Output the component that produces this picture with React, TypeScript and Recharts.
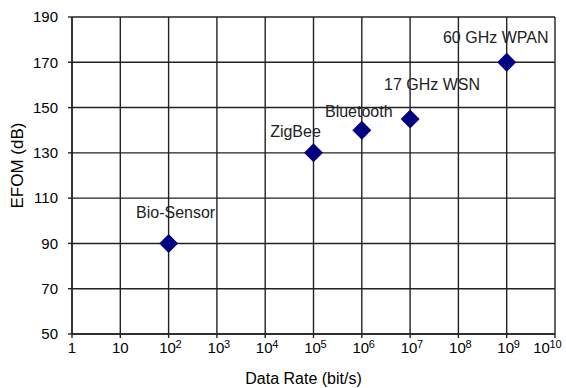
import { ScatterChart, Scatter, XAxis, YAxis, CartesianGrid } from "recharts";

const DEVICES = ["Bio-Sensor", "ZigBee", "Bluetooth", "17 GHz WSN", "60 GHz WPAN"];
const DATA_RATES = [1e2, 1e5, 1e6, 1e7, 1e9];
const EFOM = [90, 130, 140, 145, 170];

const X_TICKS = [1, 1e1, 1e2, 1e3, 1e4, 1e5, 1e6, 1e7, 1e8, 1e9, 1e10];
const Y_TICKS = [50, 70, 90, 110, 130, 150, 170, 190];

// where each point's name sits relative to its marker
const LABEL_OFFSETS: Record<string, [number, number]> = {
  "Bio-Sensor": [7, -30],
  ZigBee: [-18, -20],
  Bluetooth: [-3, -17],
  "17 GHz WSN": [22, -33],
  "60 GHz WPAN": [-11, -24],
};

const FONT = '"Liberation Sans", Arial, sans-serif';
const NAVY = "#000080";

const data = DEVICES.map((name, i) => ({ name, rate: DATA_RATES[i], efom: EFOM[i] }));

// eslint-disable-next-line @typescript-eslint/no-explicit-any
function XTick({ x, y, payload }: any) {
  const exp = Math.round(Math.log10(payload.value));
  if (exp <= 1) {
    return (
      <text x={x} y={y} dy="0.71em" textAnchor="middle" fontSize={15} fill="#000" fontFamily={FONT}>
        {exp === 0 ? "1" : "10"}
      </text>
    );
  }
  // last label is pulled left so it stays inside the picture
  const shift = exp >= 10 ? -12.5 : 0;
  return (
    <g fontFamily={FONT} fill="#000">
      <text x={x - 1 + shift} y={y} dy="0.71em" textAnchor="middle" fontSize={15}>
        10
      </text>
      <text x={x + 7 + shift} y={y - 2} dy="0.71em" textAnchor="start" fontSize={11}>
        {exp}
      </text>
    </g>
  );
}

// eslint-disable-next-line @typescript-eslint/no-explicit-any
function Diamond({ cx, cy, payload }: any) {
  const r = 9.5;
  const [dx, dy] = LABEL_OFFSETS[payload.name] ?? [0, -24];
  return (
    <g>
      <polygon
        points={`${cx},${cy - r} ${cx + r},${cy} ${cx},${cy + r} ${cx - r},${cy}`}
        fill={NAVY}
      />
      <text
        x={cx + dx}
        y={cy + dy}
        textAnchor="middle"
        dominantBaseline="middle"
        fontSize={16}
        fontFamily={FONT}
        fill="#222"
      >
        {payload.name}
      </text>
    </g>
  );
}

export default function App() {
  return (
    <div style={{ width: 566, height: 388, background: "#fff" }}>
      <style>{"body{margin:0}"}</style>
      <ScatterChart width={566} height={388} margin={{ top: 17, right: 11, left: 0, bottom: 0 }}>
        <CartesianGrid stroke="#222" strokeWidth={1.4} />
        <XAxis
          type="number"
          dataKey="rate"
          scale="log"
          domain={[1, 1e10]}
          ticks={X_TICKS}
          interval={0}
          allowDataOverflow
          height={54}
          tickSize={4}
          tickMargin={4}
          stroke="#222"
          strokeWidth={1.4}
          tick={<XTick />}
          label={{
            value: "Data Rate (bit/s)",
            position: "insideBottom",
            offset: 4,
            dx: -10,
            style: { fontSize: 16, fill: "#000", fontFamily: FONT },
          }}
        />
        <YAxis
          type="number"
          dataKey="efom"
          domain={[50, 190]}
          ticks={Y_TICKS}
          interval={0}
          width={72}
          tickSize={4}
          tickMargin={10}
          stroke="#222"
          strokeWidth={1.4}
          tick={{ fontSize: 15, fill: "#000", fontFamily: FONT }}
          label={{
            value: "EFOM (dB)",
            angle: -90,
            position: "insideLeft",
            offset: 17,
            dy: -10,
            style: { fontSize: 17, fill: "#000", fontFamily: FONT, textAnchor: "middle" },
          }}
        />
        <Scatter data={data} shape={<Diamond />} isAnimationActive={false} />
      </ScatterChart>
    </div>
  );
}
